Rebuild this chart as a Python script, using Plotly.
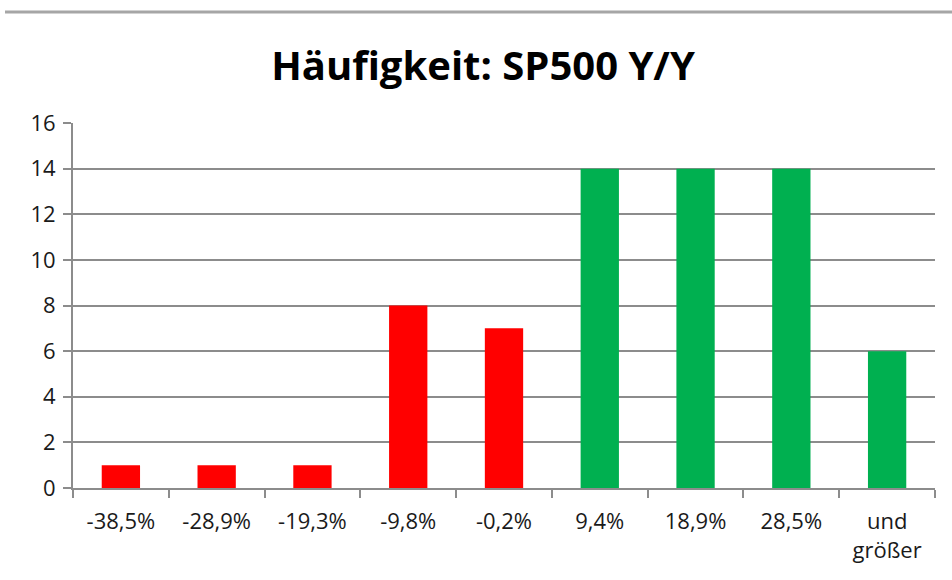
import plotly.graph_objects as go

categories = ["-38,5%", "-28,9%", "-19,3%", "-9,8%", "-0,2%", "9,4%", "18,9%", "28,5%", "und<br>größer"]
counts = [1, 1, 1, 8, 7, 14, 14, 14, 6]
bar_colors = ["#FF0000"] * 5 + ["#00B050"] * 4
y_ticks = [0, 2, 4, 6, 8, 10, 12, 14, 16]

fig = go.Figure()
fig.add_trace(go.Bar(x=categories, y=counts, marker=dict(color=bar_colors, line=dict(width=0))))

font_family = "Open Sans, Noto Sans, sans-serif"

fig.update_layout(
    width=952, height=580,
    margin=dict(l=73, r=17, t=123, b=92),
    paper_bgcolor="white", plot_bgcolor="white",
    bargap=0.6,
    showlegend=False,
    title=dict(text="<b>Häufigkeit: SP500 Y/Y</b>", x=483 / 952, xanchor="center",
               y=1 - 66 / 580, yanchor="middle", yref="container",
               font=dict(family=font_family, size=40, color="#000000")),
    xaxis=dict(
        type="category", tickson="boundaries", ticks="outside", ticklen=8,
        tickcolor="#8c8c8c", tickwidth=2,
        showline=True, linecolor="#8c8c8c", linewidth=2,
        showgrid=False, ticklabelstandoff=13,
        tickfont=dict(family=font_family, size=22, color="#1a1a1a"),
    ),
    yaxis=dict(
        range=[0, 16], tickvals=y_ticks, ticks="outside", ticklen=8,
        tickcolor="#8c8c8c", tickwidth=2,
        showline=True, linecolor="#8c8c8c", linewidth=2,
        showgrid=True, gridcolor="#8c8c8c", gridwidth=2,
        zeroline=False, ticklabelstandoff=3,
        tickfont=dict(family=font_family, size=22, color="#1a1a1a"),
    ),
    shapes=[dict(type="line", xref="paper", yref="paper",
                 x0=(5 - 73) / 862, x1=(952 - 73) / 862,
                 y0=(488 - 12) / 365, y1=(488 - 12) / 365,
                 line=dict(color="#a6a6a6", width=3))],
)

fig.write_html("out.html", config={"displayModeBar": False},
               post_script="document.body.style.margin='0';")
